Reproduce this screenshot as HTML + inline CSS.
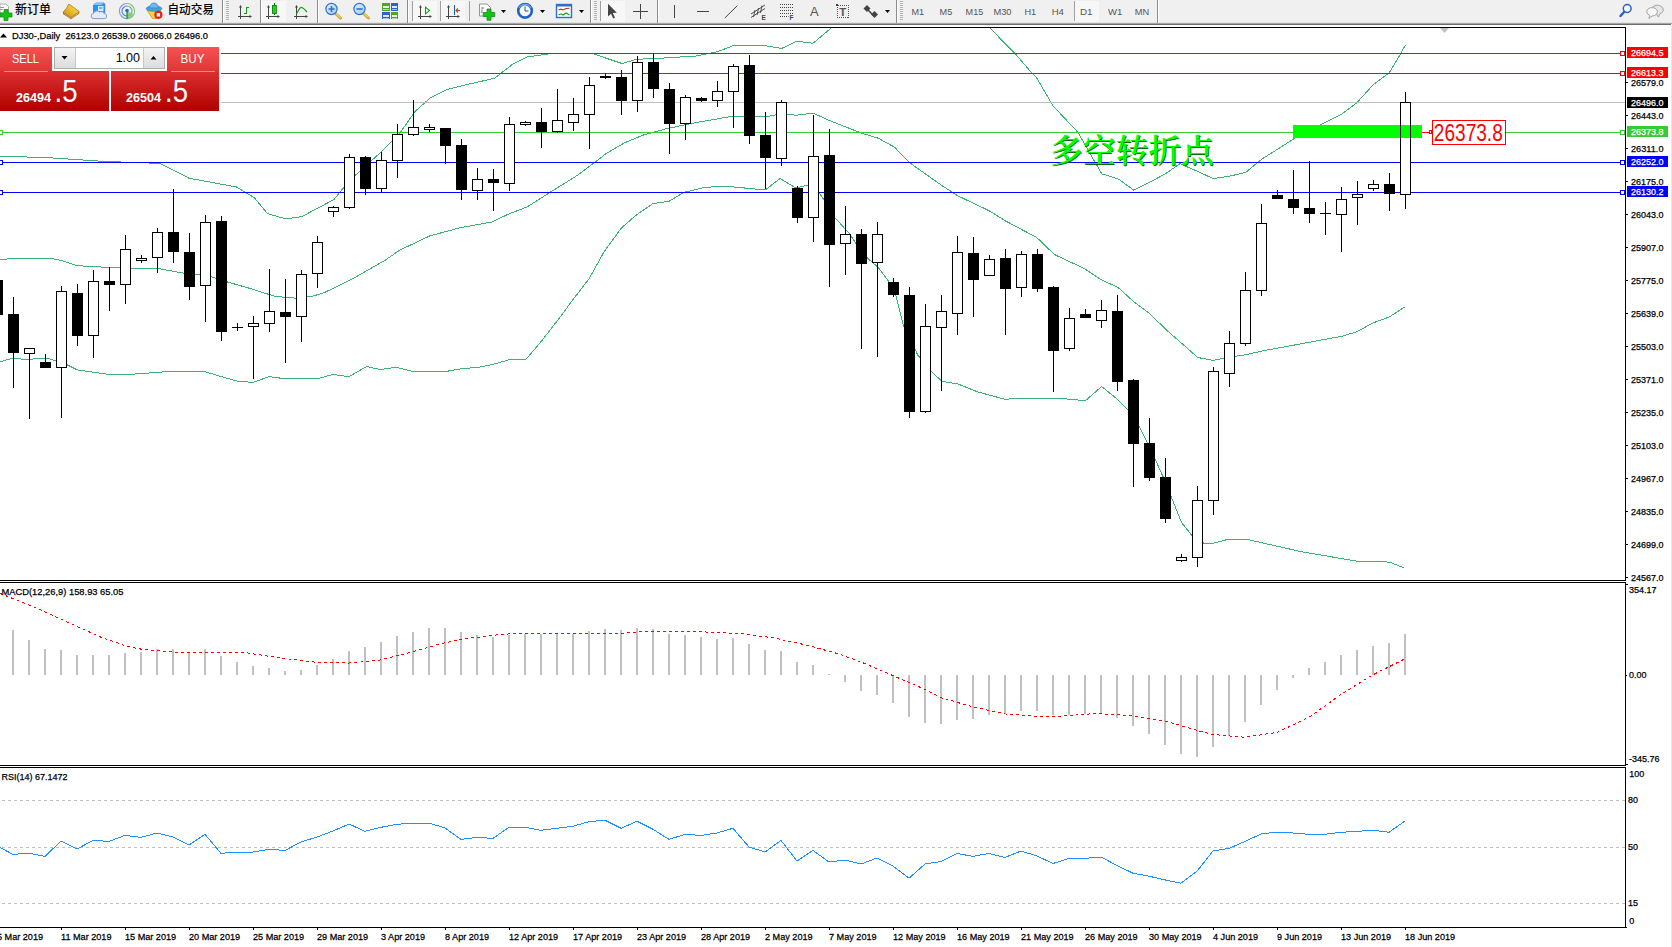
<!DOCTYPE html>
<html lang="zh"><head><meta charset="utf-8"><title>DJ30-,Daily</title>
<style>
html,body{margin:0;padding:0;background:#fff;overflow:hidden}
body{width:1672px;height:947px;position:relative;font-family:"Liberation Sans", "Noto Sans CJK SC", sans-serif}
svg{position:absolute;left:0;top:0;display:block}
text{font-family:"Liberation Sans", "Noto Sans CJK SC", sans-serif}
.t9{font-size:9.5px;fill:#000;stroke:#000;stroke-width:0.25px}
.cn{font-size:12px;fill:#000;font-weight:500}
.tf{font-size:9.5px;fill:#555}
.cr{shape-rendering:crispEdges}
text.ann{font-family:"Liberation Serif", "Noto Serif CJK SC", serif;font-weight:600;font-size:32px}
</style></head><body>
<svg width="1672" height="947" viewBox="0 0 1672 947">
<defs>
<clipPath id="cm"><rect x="0" y="28" width="1625" height="552"/></clipPath>
<clipPath id="cmacd"><rect x="0" y="583" width="1625" height="182"/></clipPath>
<clipPath id="crsi"><rect x="0" y="768" width="1625" height="159"/></clipPath>
<linearGradient id="gs1" x1="0" y1="0" x2="0" y2="1"><stop offset="0" stop-color="#f85252"/><stop offset="1" stop-color="#de3434"/></linearGradient>
<linearGradient id="gs2" x1="0" y1="0" x2="0" y2="1"><stop offset="0" stop-color="#dc3030"/><stop offset="1" stop-color="#b00000"/></linearGradient>
<linearGradient id="gbtn" x1="0" y1="0" x2="0" y2="1"><stop offset="0" stop-color="#f4f4f4"/><stop offset="1" stop-color="#dcdcdc"/></linearGradient>
<linearGradient id="glens" x1="0" y1="0" x2="1" y2="1"><stop offset="0" stop-color="#e8f3ff"/><stop offset="1" stop-color="#9cc4ee"/></linearGradient>
<linearGradient id="gbook" x1="1" y1="0" x2="0" y2="1"><stop offset="0" stop-color="#fbe36e"/><stop offset="0.55" stop-color="#e8b828"/><stop offset="1" stop-color="#c08a14"/></linearGradient>
</defs>
<rect x="0" y="0" width="1672" height="947" fill="#fff"/>
<g id="toolbar">
<rect x="0" y="0" width="1672" height="23" fill="#f0f0f0" class="cr"/>
<rect x="0" y="22" width="1672" height="1" fill="#e2e2e2" class="cr"/>
<rect x="0" y="23" width="1672" height="1" fill="#a6a6a6" class="cr"/>
<rect x="0" y="24" width="1672" height="1" fill="#6c6c6c" class="cr"/>
<rect x="1671" y="24" width="1" height="923" fill="#e8e8e8" class="cr"/>
<path d="M0,4 H6 L8.5,6.5 V13 H0 Z" fill="#fff" stroke="#9a9a9a" stroke-width="0.8"/>
<rect x="0" y="7" width="4" height="1" fill="#9a9a9a"/><rect x="0" y="9" width="3" height="1" fill="#9a9a9a"/>
<path d="M4,9.5 H8 V13 H12 V17 H8 V20.5 H4 V17 H0 V13 H4 Z" fill="#17c217" stroke="#0a8a0a" stroke-width="0.7"/>
<text class="cn" x="15" y="14.2" textLength="36" lengthAdjust="spacingAndGlyphs">新订单</text>
<polygon points="63,12.2 71,17.4 79.3,11.6 79.3,13.4 71,19.2 63,13.9" fill="#9a6a14"/>
<polygon points="64,13.2 71,17.9 78.6,12.6 78.6,13.3 71,18.5 64,13.8" fill="#f3e6b8"/>
<path d="M68.8,4 L79.3,11.6 L71,17.4 L63,12.2 Q66.5,9.5 68.8,4 Z" fill="url(#gbook)" stroke="#b07a12" stroke-width="0.8"/>
<path d="M93.5,5 L96,3 H104 L104.8,4.5 V12.5 H93.5 Z" fill="#2196f0" stroke="#1a78d0" stroke-width="0.7"/>
<path d="M93.5,5 L96,3 H104 L101.5,5 Z" fill="#7cc6ff"/>
<rect x="98" y="6" width="5.5" height="5" fill="#cfe9ff"/>
<rect x="99" y="7.5" width="3.5" height="1" fill="#2d7fd0"/>
<path d="M94,18.6 a2.6,2.6 0 0 1 -0.4,-5.2 a3.3,3.3 0 0 1 5.8,-1.3 a2.9,2.9 0 0 1 4.6,1.5 a2.5,2.5 0 0 1 0.3,5 Z" fill="#e6ecf7" stroke="#7a94c8" stroke-width="0.9"/>
<g fill="none" stroke-width="1.2">
<path d="M127,3.5 a7.6,7.6 0 0 0 0,15.2" stroke="#7da0e0"/>
<path d="M127,6 a5,5 0 0 0 0,10" stroke="#5b86d6"/>
<path d="M127,3.5 a7.6,7.6 0 0 1 0,15.2" stroke="#86c28a"/>
<path d="M127,6 a5,5 0 0 1 0,10" stroke="#6db672"/>
</g>
<path d="M127,11 L133.5,14 a7.2,7.2 0 0 1 -6.5,4.5 Z" fill="#7cc47f" opacity="0.8"/>
<rect x="126.4" y="11" width="1.4" height="8" fill="#1fa51f"/>
<circle cx="127" cy="10.6" r="1.8" fill="#2d62d6"/>
<path d="M147,10 L160.5,10 L156.5,18.5 H152.5 Z" fill="#f6d247" stroke="#c99712" stroke-width="0.8"/>
<ellipse cx="154" cy="8.6" rx="7.8" ry="2.7" fill="#4aa3dd" stroke="#2a7fc0" stroke-width="0.7"/>
<path d="M149.5,8 a4.5,5 0 0 1 9,0 Z" fill="#6fbbe8" stroke="#2a7fc0" stroke-width="0.7"/>
<circle cx="158.4" cy="14.8" r="4.1" fill="#e02210"/>
<rect x="156.7" y="13.1" width="3.4" height="3.4" fill="#fff"/>
<text class="cn" x="167.5" y="14.2" textLength="46.5" lengthAdjust="spacingAndGlyphs">自动交易</text>
<rect x="222" y="0" width="1" height="23" fill="#8c8c8c" class="cr"/>
<rect x="223" y="0" width="1" height="23" fill="#ffffff" class="cr"/>
<rect x="226" y="1" width="3" height="1" fill="#b4b4b4" class="cr"/>
<rect x="226" y="3" width="3" height="1" fill="#b4b4b4" class="cr"/>
<rect x="226" y="5" width="3" height="1" fill="#b4b4b4" class="cr"/>
<rect x="226" y="7" width="3" height="1" fill="#b4b4b4" class="cr"/>
<rect x="226" y="9" width="3" height="1" fill="#b4b4b4" class="cr"/>
<rect x="226" y="11" width="3" height="1" fill="#b4b4b4" class="cr"/>
<rect x="226" y="13" width="3" height="1" fill="#b4b4b4" class="cr"/>
<rect x="226" y="15" width="3" height="1" fill="#b4b4b4" class="cr"/>
<rect x="226" y="17" width="3" height="1" fill="#b4b4b4" class="cr"/>
<rect x="226" y="19" width="3" height="1" fill="#b4b4b4" class="cr"/>
<g stroke="#444" stroke-width="1" fill="none" class="cr">
<line x1="240.5" y1="6" x2="240.5" y2="19"/>
<line x1="238" y1="16.5" x2="251" y2="16.5"/>
</g>
<polygon points="239,7.5 240.5,5 242,7.5" fill="#444"/>
<polygon points="249.5,15 252,16.5 249.5,18" fill="#444"/>
<path d="M246.5,7 V14 M246.5,7.5 H249 M244,13.5 H246.5" stroke="#12a012" stroke-width="1.3" fill="none" class="cr"/>
<rect x="260" y="0" width="1" height="23" fill="#8c8c8c" class="cr"/>
<rect x="261" y="0" width="1" height="23" fill="#ffffff" class="cr"/>
<rect x="262" y="1" width="24" height="21" fill="#f7f7f7" class="cr"/>
<g stroke="#444" stroke-width="1" fill="none" class="cr">
<line x1="268.5" y1="6" x2="268.5" y2="19"/>
<line x1="266" y1="16.5" x2="279" y2="16.5"/>
</g>
<polygon points="267,7.5 268.5,5 270,7.5" fill="#444"/>
<polygon points="277.5,15 280,16.5 277.5,18" fill="#444"/>
<rect x="273.5" y="3" width="1" height="12" fill="#0a7a0a" class="cr"/>
<rect x="272" y="5" width="4" height="8" fill="#22d022" stroke="#0a7a0a" stroke-width="0.8" class="cr"/>
<g stroke="#444" stroke-width="1" fill="none" class="cr">
<line x1="296.5" y1="6" x2="296.5" y2="19"/>
<line x1="294" y1="16.5" x2="307" y2="16.5"/>
</g>
<polygon points="295,7.5 296.5,5 298,7.5" fill="#444"/>
<polygon points="305.5,15 308,16.5 305.5,18" fill="#444"/>
<path d="M296.5,14 Q300,6.5 302,7.5 T307,12" stroke="#12a012" stroke-width="1.2" fill="none"/>
<rect x="317" y="0" width="1" height="23" fill="#8c8c8c" class="cr"/>
<rect x="318" y="0" width="1" height="23" fill="#ffffff" class="cr"/>
<line x1="335.5" y1="13.5" x2="340.5" y2="18" stroke="#c9a227" stroke-width="3" stroke-linecap="round"/>
<line x1="335.5" y1="13.2" x2="340.5" y2="17.6" stroke="#f1d86a" stroke-width="1.2" stroke-linecap="round"/>
<circle cx="331.5" cy="9" r="5.6" fill="url(#glens)" stroke="#2f74c8" stroke-width="1.2"/>
<rect x="328.5" y="8.2" width="6" height="1.6" fill="#2f74c8"/>
<rect x="330.7" y="6" width="1.6" height="6" fill="#2f74c8"/>
<line x1="363.5" y1="13.5" x2="368.5" y2="18" stroke="#c9a227" stroke-width="3" stroke-linecap="round"/>
<line x1="363.5" y1="13.2" x2="368.5" y2="17.6" stroke="#f1d86a" stroke-width="1.2" stroke-linecap="round"/>
<circle cx="359.5" cy="9" r="5.6" fill="url(#glens)" stroke="#2f74c8" stroke-width="1.2"/>
<rect x="356.5" y="8.2" width="6" height="1.6" fill="#2f74c8"/>
<rect x="382" y="3" width="7.8" height="7.8" fill="#4ea628" class="cr"/>
<rect x="383" y="6" width="5.8" height="2" fill="#fff" opacity="0.85" class="cr"/>
<rect x="383" y="9" width="5.8" height="1" fill="#fff" opacity="0.6" class="cr"/>
<rect x="390.5" y="3" width="7.8" height="7.8" fill="#2a64d4" class="cr"/>
<rect x="391.5" y="6" width="5.8" height="2" fill="#fff" opacity="0.85" class="cr"/>
<rect x="391.5" y="9" width="5.8" height="1" fill="#fff" opacity="0.6" class="cr"/>
<rect x="382" y="11.5" width="7.8" height="7.8" fill="#2a64d4" class="cr"/>
<rect x="383" y="14.5" width="5.8" height="2" fill="#fff" opacity="0.85" class="cr"/>
<rect x="383" y="17.5" width="5.8" height="1" fill="#fff" opacity="0.6" class="cr"/>
<rect x="390.5" y="11.5" width="7.8" height="7.8" fill="#4ea628" class="cr"/>
<rect x="391.5" y="14.5" width="5.8" height="2" fill="#fff" opacity="0.85" class="cr"/>
<rect x="391.5" y="17.5" width="5.8" height="1" fill="#fff" opacity="0.6" class="cr"/>
<rect x="407" y="0" width="1" height="23" fill="#8c8c8c" class="cr"/>
<rect x="408" y="0" width="1" height="23" fill="#ffffff" class="cr"/>
<rect x="412" y="1" width="1" height="20" fill="#a0a0a0" class="cr"/>
<rect x="413" y="1" width="24" height="21" fill="#f7f7f7" class="cr"/>
<g stroke="#444" stroke-width="1" fill="none" class="cr">
<line x1="420.5" y1="6" x2="420.5" y2="19"/>
<line x1="418" y1="16.5" x2="431" y2="16.5"/>
</g>
<polygon points="419,7.5 420.5,5 422,7.5" fill="#444"/>
<polygon points="429.5,15 432,16.5 429.5,18" fill="#444"/>
<polygon points="425.5,7.2 429.5,10.5 425.5,13.8" fill="#fff" stroke="#14a414" stroke-width="1.1"/>
<rect x="440" y="1" width="1" height="20" fill="#a0a0a0" class="cr"/>
<rect x="441" y="1" width="24" height="21" fill="#f7f7f7" class="cr"/>
<g stroke="#444" stroke-width="1" fill="none" class="cr">
<line x1="448.5" y1="6" x2="448.5" y2="19"/>
<line x1="446" y1="16.5" x2="459" y2="16.5"/>
</g>
<polygon points="447,7.5 448.5,5 450,7.5" fill="#444"/>
<polygon points="457.5,15 460,16.5 457.5,18" fill="#444"/>
<rect x="454" y="5" width="1" height="10" fill="#1464a0" class="cr"/>
<path d="M460,10.5 H456 M458,8.5 L456,10.5 L458,12.5" stroke="#d04000" stroke-width="1.1" fill="none"/>
<rect x="469" y="1" width="1" height="20" fill="#a0a0a0" class="cr"/>
<path d="M479.5,4 H487 L490.5,7.5 V16 H479.5 Z" fill="#fafafa" stroke="#8a8a8a" stroke-width="0.9"/>
<path d="M482,7 V13 M482,8 H484 M482,12 H480.8" stroke="#777" stroke-width="0.8" fill="none"/>
<path d="M487,9 H491 V12.5 H494.8 V16.5 H491 V20.3 H487 V16.5 H483.2 V12.5 H487 Z" fill="#17c217" stroke="#0a8a0a" stroke-width="0.7"/>
<polygon points="501,10 506,10 503.5,13" fill="#000"/>
<circle cx="525" cy="10.8" r="6.8" fill="#f4f8ff" stroke="#1f5fc6" stroke-width="2.6"/>
<path d="M519,8 a6.8,6.8 0 0 1 12,0" fill="none" stroke="#6fa4ee" stroke-width="1.2"/>
<path d="M525,6.5 V11 H528.5" stroke="#555" stroke-width="1" fill="none"/>
<polygon points="540,10 545,10 542.5,13" fill="#000"/>
<rect x="556.5" y="4.5" width="15" height="13" fill="#fff" stroke="#2d6fd0" stroke-width="1.4"/>
<rect x="556" y="4" width="16" height="2.5" fill="#2d6fd0"/>
<path d="M558.5,10 L561,9.2 L563,10 L566,8.5 L569.5,8.2" stroke="#c03010" stroke-width="1.1" fill="none"/>
<path d="M558.5,15 L561,13.8 L563,15 L566,13 L569.5,15" stroke="#12a012" stroke-width="1.1" fill="none"/>
<polygon points="579,10 584,10 581.5,13" fill="#000"/>
<rect x="590" y="0" width="1" height="23" fill="#8c8c8c" class="cr"/>
<rect x="591" y="0" width="1" height="23" fill="#ffffff" class="cr"/>
<rect x="594" y="1" width="3" height="1" fill="#b4b4b4" class="cr"/>
<rect x="594" y="3" width="3" height="1" fill="#b4b4b4" class="cr"/>
<rect x="594" y="5" width="3" height="1" fill="#b4b4b4" class="cr"/>
<rect x="594" y="7" width="3" height="1" fill="#b4b4b4" class="cr"/>
<rect x="594" y="9" width="3" height="1" fill="#b4b4b4" class="cr"/>
<rect x="594" y="11" width="3" height="1" fill="#b4b4b4" class="cr"/>
<rect x="594" y="13" width="3" height="1" fill="#b4b4b4" class="cr"/>
<rect x="594" y="15" width="3" height="1" fill="#b4b4b4" class="cr"/>
<rect x="594" y="17" width="3" height="1" fill="#b4b4b4" class="cr"/>
<rect x="594" y="19" width="3" height="1" fill="#b4b4b4" class="cr"/>
<rect x="600" y="1" width="1" height="20" fill="#a0a0a0" class="cr"/>
<rect x="601" y="1" width="24" height="21" fill="#f7f7f7" class="cr"/>
<path d="M608,3.8 V16.5 L611,13.8 L613.2,18.6 L615,17.8 L612.8,13 L616.8,12.8 Z" fill="#444"/>
<path d="M640.5,4 V18.5 M633,11.5 H648" stroke="#444" stroke-width="1" fill="none" class="cr"/>
<rect x="657" y="0" width="1" height="23" fill="#8c8c8c" class="cr"/>
<rect x="658" y="0" width="1" height="23" fill="#ffffff" class="cr"/>
<rect x="674" y="5" width="1" height="13" fill="#444" class="cr"/>
<rect x="697" y="11" width="12" height="1" fill="#444" class="cr"/>
<line x1="724.8" y1="18" x2="737.4" y2="5.6" stroke="#444" stroke-width="1"/>
<g stroke="#444" stroke-width="0.9" fill="none">
<line x1="751" y1="14" x2="765" y2="5"/><line x1="751" y1="17.5" x2="765" y2="8.5"/>
<line x1="755" y1="10" x2="753.5" y2="17"/><line x1="758.5" y1="8" x2="757" y2="15"/><line x1="762" y1="5.5" x2="760.5" y2="13"/>
</g>
<text x="761.5" y="19.5" font-size="6.5" font-weight="bold" fill="#444">E</text>
<line x1="780" y1="4.5" x2="794" y2="4.5" stroke="#444" stroke-width="1" stroke-dasharray="1,1" class="cr"/>
<line x1="780" y1="7.5" x2="794" y2="7.5" stroke="#444" stroke-width="1" stroke-dasharray="1,1" class="cr"/>
<line x1="780" y1="10.5" x2="794" y2="10.5" stroke="#444" stroke-width="1" stroke-dasharray="1,1" class="cr"/>
<line x1="780" y1="13.5" x2="794" y2="13.5" stroke="#444" stroke-width="1" stroke-dasharray="1,1" class="cr"/>
<line x1="780" y1="16.5" x2="794" y2="16.5" stroke="#444" stroke-width="1" stroke-dasharray="1,1" class="cr"/>
<rect x="788.5" y="14.5" width="6" height="6" fill="#f0f0f0"/>
<text x="789.5" y="19.8" font-size="6.5" font-weight="bold" fill="#444">F</text>
<text x="810" y="16.2" font-size="13" fill="#555">A</text>
<rect x="837.5" y="5.5" width="11" height="12" fill="none" stroke="#555" stroke-width="1" stroke-dasharray="1,1" class="cr"/>
<rect x="836" y="4" width="2" height="2" fill="#444" class="cr"/>
<text x="839.2" y="16" font-size="11.5" font-weight="bold" fill="#555">T</text>
<polygon points="867,5 870.5,8.5 867,12 863.5,8.5" fill="#444"/>
<polygon points="874.5,11 878,14.5 874.5,18 871,14.5" fill="#444"/>
<path d="M868,10 L873.5,15.5" stroke="#444" stroke-width="1.6"/>
<polygon points="885,10 890,10 887.5,13" fill="#000"/>
<rect x="896" y="0" width="1" height="23" fill="#8c8c8c" class="cr"/>
<rect x="897" y="0" width="1" height="23" fill="#ffffff" class="cr"/>
<rect x="900" y="1" width="3" height="1" fill="#b4b4b4" class="cr"/>
<rect x="900" y="3" width="3" height="1" fill="#b4b4b4" class="cr"/>
<rect x="900" y="5" width="3" height="1" fill="#b4b4b4" class="cr"/>
<rect x="900" y="7" width="3" height="1" fill="#b4b4b4" class="cr"/>
<rect x="900" y="9" width="3" height="1" fill="#b4b4b4" class="cr"/>
<rect x="900" y="11" width="3" height="1" fill="#b4b4b4" class="cr"/>
<rect x="900" y="13" width="3" height="1" fill="#b4b4b4" class="cr"/>
<rect x="900" y="15" width="3" height="1" fill="#b4b4b4" class="cr"/>
<rect x="900" y="17" width="3" height="1" fill="#b4b4b4" class="cr"/>
<rect x="900" y="19" width="3" height="1" fill="#b4b4b4" class="cr"/>
<rect x="1074" y="1" width="1" height="20" fill="#a0a0a0" class="cr"/>
<rect x="1075" y="1" width="24" height="21" fill="#f7f7f7" class="cr"/>
<text class="tf" x="911.4" y="15" textLength="12.6" lengthAdjust="spacingAndGlyphs">M1</text>
<text class="tf" x="939.6" y="15" textLength="12.6" lengthAdjust="spacingAndGlyphs">M5</text>
<text class="tf" x="965.6" y="15" textLength="17.6" lengthAdjust="spacingAndGlyphs">M15</text>
<text class="tf" x="993.4" y="15" textLength="18.1" lengthAdjust="spacingAndGlyphs">M30</text>
<text class="tf" x="1024.4" y="15" textLength="11.7" lengthAdjust="spacingAndGlyphs">H1</text>
<text class="tf" x="1051.7" y="15" textLength="12.2" lengthAdjust="spacingAndGlyphs">H4</text>
<text class="tf" x="1080" y="15" textLength="12.6" lengthAdjust="spacingAndGlyphs">D1</text>
<text class="tf" x="1107.9" y="15" textLength="14.3" lengthAdjust="spacingAndGlyphs">W1</text>
<text class="tf" x="1134.8" y="15" textLength="14.4" lengthAdjust="spacingAndGlyphs">MN</text>
<rect x="1157" y="0" width="1" height="23" fill="#8c8c8c" class="cr"/>
<rect x="1158" y="0" width="1" height="23" fill="#ffffff" class="cr"/>
<line x1="1620.5" y1="16" x2="1624.5" y2="11.5" stroke="#2b5fc7" stroke-width="2.4" stroke-linecap="round"/>
<circle cx="1627.2" cy="8.5" r="3.9" fill="#f4f8ff" stroke="#2b5fc7" stroke-width="1.5"/>
<path d="M1655,5.5 a6,4.6 0 1 1 4.5,8.6 l-1,3 l-2.4,-3 a6,4.6 0 0 1 -1.1,-8.6 Z" fill="#e6e6e6" stroke="#9a9a9a" stroke-width="0.9"/>
<path d="M1648.5,8.6 a5.4,4.2 0 1 1 3.6,7.4 l-3.2,2.4 l0.8,-3 a5.4,4.2 0 0 1 -1.2,-6.8 Z" fill="#f6f6f6" stroke="#9a9a9a" stroke-width="0.9"/>
</g>
<g id="frames" class="cr" fill="#000">
<rect x="0" y="27" width="1626" height="1"/>
<rect x="1625" y="27" width="1" height="554"/>
<rect x="0" y="580" width="1626" height="1"/>
<rect x="0" y="582" width="1626" height="1"/>
<rect x="1625" y="582" width="1" height="184"/>
<rect x="0" y="765" width="1626" height="1"/>
<rect x="0" y="767" width="1626" height="1"/>
<rect x="1625" y="767" width="1" height="161"/>
<rect x="0" y="927" width="1627" height="1"/>
</g>
<g id="main" clip-path="url(#cm)">
<polyline points="-3,156 0,156 53,158 103.5,161.4 160,163.4 189,178.2 236.6,187 254,197.5 267.7,213.7 285.4,218.8 301.7,216.7 334,199.5 349,181 381.5,151.6 400,133 414.8,111.7 429.6,98.4 447,89.5 471,83.6 494.6,78.3 512.4,64.4 527,57 548,54 592,53.4 607,58.5 622,63.5 636.6,59.3 666,57.9 695.8,56 716.5,52 734,45.4 763.8,45.4 781.5,48.5 796.8,41.2 813,43.3 831.8,27.5 845,17 975,14 989.3,27.5 1014.8,53.2 1031.8,73 1036.6,77.7 1053,105.8 1078,132.4 1101.7,173.8 1118,178.8 1133.6,190 1149,182.7 1165.3,173.8 1180,163.7 1196.3,170.8 1213,178.5 1229.6,176.2 1245.8,172.3 1262,159 1278.4,148.7 1294.6,138.3 1319.8,125 1342,114 1356.8,102.8 1373,85 1389.3,72.6 1399.6,55.5 1405.3,45.1" fill="none" stroke="#3cb371" stroke-width="1" class="cr"/>
<polyline points="-3,259.8 0,259.6 20,258 50,258 61,260.5 76,265.2 87,266.5 118,267.6 160,268.9 183,273 207,275.4 225,281.3 251,288.7 275,296.4 296,298.2 313.5,296 325,292.3 355,277.5 384.5,260.6 400,250 429.6,236 459,228 491.7,222 509.4,213.7 527,207 553.8,190 577.5,175.3 607,153 624.8,142.7 642.5,135.3 666,128.8 695.8,122.6 734,116 749,117 766.8,116.7 781.5,113.8 796,115.2 813.3,113.2 829.6,120.6 862,133.3 878.4,138.3 894.6,147.2 909.4,162.6 942,185.6 958.2,196 989.3,210.8 1005.6,221 1036.6,237.4 1054.4,254.5 1084,268.4 1101.7,280 1118,287.4 1134,302 1149,313 1166.8,330.3 1197.8,357.5 1213.3,360.4 1229.6,357 1245.8,354.8 1262,351 1294.6,345 1342,336.2 1356.8,331.8 1373,322.9 1389.3,317 1405.3,306.6" fill="none" stroke="#3cb371" stroke-width="1" class="cr"/>
<polyline points="-3,362 0,361.8 13,358.1 24,359.4 35,358.9 48,358.5 55.5,360.7 67.5,365 77.6,370 96,372.6 107,374.2 133,374.2 168.6,371.5 204,371.5 236.6,381 253,382.5 269,376.6 284,378.6 318,378.6 332.7,374.5 349,376.6 366.7,366.5 380,369.5 396,367.4 413.3,371.5 445.8,371.5 462,368.6 478.4,367.4 493,364.4 509.4,359.7 525.7,359.7 542,340.5 558,319.8 574.5,297.6 589.3,278.4 604,251.8 621.8,227.5 636.6,214.8 653,203.5 669,201.3 684,192.4 701.7,188 718,186.2 734,187 765.3,190 780,178.5 795.8,188 807.7,185 819.6,193.5 824.4,200.7 834.6,217.3 849.7,234 856,243.4 867,257.7 878,267.2 889.3,282.3 896,296 903.5,325.8 918,355.4 931.6,371.7 942,381.4 958,384 977.5,391.8 1005.6,399.5 1014.4,398.3 1060,398.3 1085.4,400.7 1101.7,386.5 1118,399.8 1128,410 1140,428 1149,445.6 1165,481 1181.5,522.5 1193.4,537.3 1203.5,543 1213.9,543 1228.7,539.2 1246.4,539.2 1265.6,543.6 1301,551.6 1355.8,561 1381,561 1391.3,562.8 1404.6,568.1" fill="none" stroke="#3cb371" stroke-width="1" class="cr"/>
<g class="cr">
<rect x="0" y="53" width="1625" height="1" fill="#ff0000"/>
<rect x="0" y="73" width="1625" height="1" fill="#ff0000"/>
<rect x="0" y="102" width="1625" height="1" fill="#c0c0c0"/>
<rect x="0" y="132" width="1625" height="1" fill="#32cd32"/>
<rect x="0" y="162" width="1625" height="1" fill="#0000ff"/>
<rect x="0" y="192" width="1625" height="1" fill="#0000ff"/>
</g>
<g class="cr">
<rect x="-3" y="270" width="1" height="60" fill="#000"/>
<rect x="-8" y="280" width="11" height="35" fill="#000"/>
<rect x="13" y="297" width="1" height="91" fill="#000"/>
<rect x="8" y="314" width="11" height="39" fill="#000"/>
<rect x="29" y="349" width="1" height="70" fill="#000"/>
<rect x="24" y="348" width="11" height="6" fill="#000"/>
<rect x="25" y="349" width="9" height="4" fill="#fff"/>
<rect x="45" y="354" width="1" height="14" fill="#000"/>
<rect x="40" y="362" width="11" height="6" fill="#000"/>
<rect x="61" y="286" width="1" height="132" fill="#000"/>
<rect x="56" y="291" width="11" height="77" fill="#000"/>
<rect x="57" y="292" width="9" height="75" fill="#fff"/>
<rect x="77" y="284" width="1" height="62" fill="#000"/>
<rect x="72" y="293" width="11" height="43" fill="#000"/>
<rect x="93" y="270" width="1" height="88" fill="#000"/>
<rect x="88" y="281" width="11" height="55" fill="#000"/>
<rect x="89" y="282" width="9" height="53" fill="#fff"/>
<rect x="109" y="267" width="1" height="44" fill="#000"/>
<rect x="104" y="281" width="11" height="4" fill="#000"/>
<rect x="125" y="235" width="1" height="69" fill="#000"/>
<rect x="120" y="249" width="11" height="36" fill="#000"/>
<rect x="121" y="250" width="9" height="34" fill="#fff"/>
<rect x="141" y="255" width="1" height="8" fill="#000"/>
<rect x="136" y="258" width="11" height="3" fill="#000"/>
<rect x="137" y="259" width="9" height="1" fill="#fff"/>
<rect x="157" y="228" width="1" height="45" fill="#000"/>
<rect x="152" y="232" width="11" height="26" fill="#000"/>
<rect x="153" y="233" width="9" height="24" fill="#fff"/>
<rect x="173" y="189" width="1" height="74" fill="#000"/>
<rect x="168" y="232" width="11" height="20" fill="#000"/>
<rect x="189" y="233" width="1" height="67" fill="#000"/>
<rect x="184" y="252" width="11" height="35" fill="#000"/>
<rect x="205" y="215" width="1" height="107" fill="#000"/>
<rect x="200" y="222" width="11" height="64" fill="#000"/>
<rect x="201" y="223" width="9" height="62" fill="#fff"/>
<rect x="221" y="216" width="1" height="125" fill="#000"/>
<rect x="216" y="221" width="11" height="111" fill="#000"/>
<rect x="237" y="323" width="1" height="8" fill="#000"/>
<rect x="232" y="327" width="11" height="1" fill="#000"/>
<rect x="253" y="316" width="1" height="63" fill="#000"/>
<rect x="248" y="323" width="11" height="4" fill="#000"/>
<rect x="249" y="324" width="9" height="2" fill="#fff"/>
<rect x="269" y="269" width="1" height="63" fill="#000"/>
<rect x="264" y="311" width="11" height="13" fill="#000"/>
<rect x="265" y="312" width="9" height="11" fill="#fff"/>
<rect x="285" y="279" width="1" height="84" fill="#000"/>
<rect x="280" y="312" width="11" height="5" fill="#000"/>
<rect x="301" y="270" width="1" height="72" fill="#000"/>
<rect x="296" y="274" width="11" height="43" fill="#000"/>
<rect x="297" y="275" width="9" height="41" fill="#fff"/>
<rect x="317" y="236" width="1" height="52" fill="#000"/>
<rect x="312" y="242" width="11" height="32" fill="#000"/>
<rect x="313" y="243" width="9" height="30" fill="#fff"/>
<rect x="333" y="206" width="1" height="11" fill="#000"/>
<rect x="328" y="207" width="11" height="5" fill="#000"/>
<rect x="329" y="208" width="9" height="3" fill="#fff"/>
<rect x="349" y="154" width="1" height="55" fill="#000"/>
<rect x="344" y="157" width="11" height="51" fill="#000"/>
<rect x="345" y="158" width="9" height="49" fill="#fff"/>
<rect x="365" y="156" width="1" height="39" fill="#000"/>
<rect x="360" y="157" width="11" height="32" fill="#000"/>
<rect x="381" y="152" width="1" height="40" fill="#000"/>
<rect x="376" y="160" width="11" height="29" fill="#000"/>
<rect x="377" y="161" width="9" height="27" fill="#fff"/>
<rect x="397" y="124" width="1" height="54" fill="#000"/>
<rect x="392" y="134" width="11" height="27" fill="#000"/>
<rect x="393" y="135" width="9" height="25" fill="#fff"/>
<rect x="413" y="100" width="1" height="36" fill="#000"/>
<rect x="408" y="127" width="11" height="8" fill="#000"/>
<rect x="409" y="128" width="9" height="6" fill="#fff"/>
<rect x="429" y="124" width="1" height="8" fill="#000"/>
<rect x="424" y="127" width="11" height="3" fill="#000"/>
<rect x="425" y="128" width="9" height="1" fill="#fff"/>
<rect x="445" y="128" width="1" height="36" fill="#000"/>
<rect x="440" y="128" width="11" height="18" fill="#000"/>
<rect x="461" y="139" width="1" height="61" fill="#000"/>
<rect x="456" y="145" width="11" height="45" fill="#000"/>
<rect x="477" y="168" width="1" height="32" fill="#000"/>
<rect x="472" y="179" width="11" height="12" fill="#000"/>
<rect x="473" y="180" width="9" height="10" fill="#fff"/>
<rect x="493" y="169" width="1" height="42" fill="#000"/>
<rect x="488" y="179" width="11" height="4" fill="#000"/>
<rect x="509" y="117" width="1" height="74" fill="#000"/>
<rect x="504" y="124" width="11" height="60" fill="#000"/>
<rect x="505" y="125" width="9" height="58" fill="#fff"/>
<rect x="525" y="121" width="1" height="5" fill="#000"/>
<rect x="520" y="122" width="11" height="3" fill="#000"/>
<rect x="521" y="123" width="9" height="1" fill="#fff"/>
<rect x="541" y="108" width="1" height="40" fill="#000"/>
<rect x="536" y="122" width="11" height="10" fill="#000"/>
<rect x="557" y="89" width="1" height="44" fill="#000"/>
<rect x="552" y="120" width="11" height="12" fill="#000"/>
<rect x="553" y="121" width="9" height="10" fill="#fff"/>
<rect x="573" y="98" width="1" height="33" fill="#000"/>
<rect x="568" y="114" width="11" height="9" fill="#000"/>
<rect x="569" y="115" width="9" height="7" fill="#fff"/>
<rect x="589" y="77" width="1" height="72" fill="#000"/>
<rect x="584" y="85" width="11" height="30" fill="#000"/>
<rect x="585" y="86" width="9" height="28" fill="#fff"/>
<rect x="605" y="73" width="1" height="6" fill="#000"/>
<rect x="600" y="76" width="11" height="2" fill="#000"/>
<rect x="621" y="70" width="1" height="45" fill="#000"/>
<rect x="616" y="77" width="11" height="24" fill="#000"/>
<rect x="637" y="56" width="1" height="56" fill="#000"/>
<rect x="632" y="62" width="11" height="39" fill="#000"/>
<rect x="633" y="63" width="9" height="37" fill="#fff"/>
<rect x="653" y="53" width="1" height="45" fill="#000"/>
<rect x="648" y="62" width="11" height="27" fill="#000"/>
<rect x="669" y="83" width="1" height="71" fill="#000"/>
<rect x="664" y="89" width="11" height="35" fill="#000"/>
<rect x="685" y="95" width="1" height="45" fill="#000"/>
<rect x="680" y="97" width="11" height="27" fill="#000"/>
<rect x="681" y="98" width="9" height="25" fill="#fff"/>
<rect x="701" y="97" width="1" height="5" fill="#000"/>
<rect x="696" y="98" width="11" height="3" fill="#000"/>
<rect x="717" y="81" width="1" height="26" fill="#000"/>
<rect x="712" y="91" width="11" height="10" fill="#000"/>
<rect x="713" y="92" width="9" height="8" fill="#fff"/>
<rect x="733" y="64" width="1" height="64" fill="#000"/>
<rect x="728" y="66" width="11" height="26" fill="#000"/>
<rect x="729" y="67" width="9" height="24" fill="#fff"/>
<rect x="749" y="55" width="1" height="89" fill="#000"/>
<rect x="744" y="65" width="11" height="71" fill="#000"/>
<rect x="765" y="112" width="1" height="77" fill="#000"/>
<rect x="760" y="135" width="11" height="23" fill="#000"/>
<rect x="781" y="100" width="1" height="66" fill="#000"/>
<rect x="776" y="102" width="11" height="57" fill="#000"/>
<rect x="777" y="103" width="9" height="55" fill="#fff"/>
<rect x="797" y="186" width="1" height="37" fill="#000"/>
<rect x="792" y="188" width="11" height="30" fill="#000"/>
<rect x="813" y="115" width="1" height="127" fill="#000"/>
<rect x="808" y="156" width="11" height="62" fill="#000"/>
<rect x="809" y="157" width="9" height="60" fill="#fff"/>
<rect x="829" y="129" width="1" height="158" fill="#000"/>
<rect x="824" y="155" width="11" height="90" fill="#000"/>
<rect x="845" y="206" width="1" height="69" fill="#000"/>
<rect x="840" y="234" width="11" height="10" fill="#000"/>
<rect x="841" y="235" width="9" height="8" fill="#fff"/>
<rect x="861" y="229" width="1" height="120" fill="#000"/>
<rect x="856" y="234" width="11" height="30" fill="#000"/>
<rect x="877" y="222" width="1" height="135" fill="#000"/>
<rect x="872" y="234" width="11" height="29" fill="#000"/>
<rect x="873" y="235" width="9" height="27" fill="#fff"/>
<rect x="893" y="278" width="1" height="19" fill="#000"/>
<rect x="888" y="282" width="11" height="13" fill="#000"/>
<rect x="909" y="287" width="1" height="131" fill="#000"/>
<rect x="904" y="295" width="11" height="117" fill="#000"/>
<rect x="925" y="304" width="1" height="109" fill="#000"/>
<rect x="920" y="326" width="11" height="86" fill="#000"/>
<rect x="921" y="327" width="9" height="84" fill="#fff"/>
<rect x="941" y="295" width="1" height="96" fill="#000"/>
<rect x="936" y="311" width="11" height="17" fill="#000"/>
<rect x="937" y="312" width="9" height="15" fill="#fff"/>
<rect x="957" y="236" width="1" height="99" fill="#000"/>
<rect x="952" y="252" width="11" height="62" fill="#000"/>
<rect x="953" y="253" width="9" height="60" fill="#fff"/>
<rect x="973" y="237" width="1" height="80" fill="#000"/>
<rect x="968" y="253" width="11" height="27" fill="#000"/>
<rect x="989" y="255" width="1" height="21" fill="#000"/>
<rect x="984" y="259" width="11" height="17" fill="#000"/>
<rect x="985" y="260" width="9" height="15" fill="#fff"/>
<rect x="1005" y="249" width="1" height="86" fill="#000"/>
<rect x="1000" y="258" width="11" height="31" fill="#000"/>
<rect x="1021" y="251" width="1" height="46" fill="#000"/>
<rect x="1016" y="254" width="11" height="34" fill="#000"/>
<rect x="1017" y="255" width="9" height="32" fill="#fff"/>
<rect x="1037" y="249" width="1" height="43" fill="#000"/>
<rect x="1032" y="254" width="11" height="35" fill="#000"/>
<rect x="1053" y="286" width="1" height="106" fill="#000"/>
<rect x="1048" y="287" width="11" height="64" fill="#000"/>
<rect x="1069" y="308" width="1" height="43" fill="#000"/>
<rect x="1064" y="318" width="11" height="31" fill="#000"/>
<rect x="1065" y="319" width="9" height="29" fill="#fff"/>
<rect x="1085" y="309" width="1" height="9" fill="#000"/>
<rect x="1080" y="314" width="11" height="4" fill="#000"/>
<rect x="1101" y="300" width="1" height="28" fill="#000"/>
<rect x="1096" y="310" width="11" height="11" fill="#000"/>
<rect x="1097" y="311" width="9" height="9" fill="#fff"/>
<rect x="1117" y="295" width="1" height="96" fill="#000"/>
<rect x="1112" y="311" width="11" height="71" fill="#000"/>
<rect x="1133" y="379" width="1" height="108" fill="#000"/>
<rect x="1128" y="380" width="11" height="64" fill="#000"/>
<rect x="1149" y="418" width="1" height="63" fill="#000"/>
<rect x="1144" y="443" width="11" height="35" fill="#000"/>
<rect x="1165" y="458" width="1" height="65" fill="#000"/>
<rect x="1160" y="477" width="11" height="42" fill="#000"/>
<rect x="1181" y="554" width="1" height="8" fill="#000"/>
<rect x="1176" y="557" width="11" height="4" fill="#000"/>
<rect x="1177" y="558" width="9" height="2" fill="#fff"/>
<rect x="1197" y="486" width="1" height="81" fill="#000"/>
<rect x="1192" y="500" width="11" height="58" fill="#000"/>
<rect x="1193" y="501" width="9" height="56" fill="#fff"/>
<rect x="1213" y="367" width="1" height="148" fill="#000"/>
<rect x="1208" y="371" width="11" height="130" fill="#000"/>
<rect x="1209" y="372" width="9" height="128" fill="#fff"/>
<rect x="1229" y="331" width="1" height="56" fill="#000"/>
<rect x="1224" y="343" width="11" height="31" fill="#000"/>
<rect x="1225" y="344" width="9" height="29" fill="#fff"/>
<rect x="1245" y="272" width="1" height="74" fill="#000"/>
<rect x="1240" y="290" width="11" height="54" fill="#000"/>
<rect x="1241" y="291" width="9" height="52" fill="#fff"/>
<rect x="1261" y="204" width="1" height="92" fill="#000"/>
<rect x="1256" y="223" width="11" height="68" fill="#000"/>
<rect x="1257" y="224" width="9" height="66" fill="#fff"/>
<rect x="1277" y="190" width="1" height="9" fill="#000"/>
<rect x="1272" y="195" width="11" height="4" fill="#000"/>
<rect x="1293" y="170" width="1" height="44" fill="#000"/>
<rect x="1288" y="199" width="11" height="9" fill="#000"/>
<rect x="1309" y="161" width="1" height="62" fill="#000"/>
<rect x="1304" y="208" width="11" height="6" fill="#000"/>
<rect x="1325" y="202" width="1" height="33" fill="#000"/>
<rect x="1320" y="213" width="11" height="1" fill="#000"/>
<rect x="1341" y="187" width="1" height="65" fill="#000"/>
<rect x="1336" y="199" width="11" height="16" fill="#000"/>
<rect x="1337" y="200" width="9" height="14" fill="#fff"/>
<rect x="1357" y="181" width="1" height="44" fill="#000"/>
<rect x="1352" y="194" width="11" height="4" fill="#000"/>
<rect x="1353" y="195" width="9" height="2" fill="#fff"/>
<rect x="1373" y="180" width="1" height="11" fill="#000"/>
<rect x="1368" y="184" width="11" height="5" fill="#000"/>
<rect x="1369" y="185" width="9" height="3" fill="#fff"/>
<rect x="1389" y="173" width="1" height="38" fill="#000"/>
<rect x="1384" y="184" width="11" height="10" fill="#000"/>
<rect x="1405" y="92" width="1" height="117" fill="#000"/>
<rect x="1400" y="102" width="11" height="93" fill="#000"/>
<rect x="1401" y="103" width="9" height="91" fill="#fff"/>
</g>
<g class="cr" fill="#fff">
<rect x="1620.5" y="51.5" width="4" height="4" stroke="#ff0000" stroke-width="1"/>
<rect x="-1.5" y="51.5" width="4" height="4" stroke="#ff0000" stroke-width="1"/>
<rect x="1620.5" y="71.5" width="4" height="4" stroke="#ff0000" stroke-width="1"/>
<rect x="-1.5" y="71.5" width="4" height="4" stroke="#ff0000" stroke-width="1"/>
<rect x="1620.5" y="130.5" width="4" height="4" stroke="#32cd32" stroke-width="1"/>
<rect x="-1.5" y="130.5" width="4" height="4" stroke="#32cd32" stroke-width="1"/>
<rect x="1620.5" y="160.5" width="4" height="4" stroke="#0000ff" stroke-width="1"/>
<rect x="-1.5" y="160.5" width="4" height="4" stroke="#0000ff" stroke-width="1"/>
<rect x="1620.5" y="190.5" width="4" height="4" stroke="#0000ff" stroke-width="1"/>
<rect x="-1.5" y="190.5" width="4" height="4" stroke="#0000ff" stroke-width="1"/>
</g>
<rect x="1293" y="125" width="129" height="13" fill="#00ff00" class="cr"/>
<rect x="1400" y="125" width="1" height="13" fill="#000" class="cr"/><rect x="1410" y="125" width="1" height="13" fill="#000" class="cr"/>
<g class="cr"><rect x="1422" y="132" width="8" height="1" fill="#ff0000"/>
<rect x="1429.5" y="130.5" width="2" height="3" fill="#fff" stroke="#ff0000"/>
<rect x="1432.5" y="120.5" width="73" height="24" fill="#fff" stroke="#ff0000" stroke-width="1"/></g>
<text x="1433.8" y="140.8" font-size="23.2" fill="#ff0000" textLength="69" lengthAdjust="spacingAndGlyphs">26373.8</text>
<text class="ann" x="1050.8" y="162.5" fill="#0b6b0b" textLength="164" lengthAdjust="spacingAndGlyphs">多空转折点</text>
<text class="ann" x="1050.2" y="162" fill="#00ff00" textLength="164" lengthAdjust="spacingAndGlyphs">多空转折点</text>
</g>
<polygon points="1440,28 1449,28 1444.5,33" fill="#c0c0c0"/>
<polygon points="0,37.4 7,37.4 3.5,33.6" fill="#000"/>
<text class="t9" x="12" y="38.6" textLength="196" lengthAdjust="spacingAndGlyphs">DJ30-,Daily&#160;&#160;26123.0 26539.0 26066.0 26496.0</text>
<g id="oneclick">
<rect x="0" y="46" width="221" height="66" fill="#fff" class="cr"/>
<rect x="0" y="47" width="52" height="25" fill="url(#gs1)" class="cr"/>
<rect x="167" y="47" width="52" height="25" fill="url(#gs1)" class="cr"/>
<rect x="0" y="71" width="109" height="40" fill="url(#gs2)" class="cr"/>
<rect x="111" y="71" width="108" height="40" fill="url(#gs2)" class="cr"/>
<rect x="4" y="71" width="44" height="1" fill="#f08a8a" class="cr"/>
<rect x="171" y="71" width="44" height="1" fill="#f08a8a" class="cr"/>
<rect x="54.5" y="47.5" width="110" height="21" fill="#fff" stroke="#adadad" class="cr"/>
<rect x="55" y="48" width="20" height="20" fill="url(#gbtn)" class="cr"/>
<rect x="144" y="48" width="20" height="20" fill="url(#gbtn)" class="cr"/>
<rect x="75" y="48" width="1" height="20" fill="#c8c8c8" class="cr"/>
<rect x="143" y="48" width="1" height="20" fill="#c8c8c8" class="cr"/>
<polygon points="61.5,56 67.5,56 64.5,59.5" fill="#000"/>
<polygon points="150.5,59.5 156.5,59.5 153.5,56" fill="#000"/>
<text x="140" y="61.9" font-size="12.5" fill="#000" text-anchor="end">1.00</text>
<text x="25.5" y="63" font-size="12.5" fill="#fff" text-anchor="middle" textLength="27" lengthAdjust="spacingAndGlyphs">SELL</text>
<text x="192.5" y="63" font-size="12.5" fill="#fff" text-anchor="middle" textLength="24" lengthAdjust="spacingAndGlyphs">BUY</text>
<text x="16" y="101.5" font-size="12" font-weight="bold" fill="#fff" textLength="35" lengthAdjust="spacingAndGlyphs">26494</text>
<text x="54.5" y="101.5" font-size="31" fill="#fff" textLength="23" lengthAdjust="spacingAndGlyphs">.5</text>
<text x="126" y="101.5" font-size="12" font-weight="bold" fill="#fff" textLength="35" lengthAdjust="spacingAndGlyphs">26504</text>
<text x="165" y="101.5" font-size="31" fill="#fff" textLength="23" lengthAdjust="spacingAndGlyphs">.5</text>
</g>
<g id="axis">
<g class="cr" fill="#000">
<rect x="1626" y="82" width="2" height="1"/>
<rect x="1626" y="115" width="2" height="1"/>
<rect x="1626" y="148" width="2" height="1"/>
<rect x="1626" y="181" width="2" height="1"/>
<rect x="1626" y="214" width="2" height="1"/>
<rect x="1626" y="247" width="2" height="1"/>
<rect x="1626" y="280" width="2" height="1"/>
<rect x="1626" y="313" width="2" height="1"/>
<rect x="1626" y="346" width="2" height="1"/>
<rect x="1626" y="379" width="2" height="1"/>
<rect x="1626" y="412" width="2" height="1"/>
<rect x="1626" y="445" width="2" height="1"/>
<rect x="1626" y="478" width="2" height="1"/>
<rect x="1626" y="511" width="2" height="1"/>
<rect x="1626" y="544" width="2" height="1"/>
<rect x="1626" y="577" width="2" height="1"/>
</g>
<text class="t9" x="1631" y="86" textLength="32.5" lengthAdjust="spacingAndGlyphs">26579.0</text>
<text class="t9" x="1631" y="119" textLength="32.5" lengthAdjust="spacingAndGlyphs">26443.0</text>
<text class="t9" x="1631" y="152" textLength="32.5" lengthAdjust="spacingAndGlyphs">26311.0</text>
<text class="t9" x="1631" y="185" textLength="32.5" lengthAdjust="spacingAndGlyphs">26175.0</text>
<text class="t9" x="1631" y="218" textLength="32.5" lengthAdjust="spacingAndGlyphs">26043.0</text>
<text class="t9" x="1631" y="251" textLength="32.5" lengthAdjust="spacingAndGlyphs">25907.0</text>
<text class="t9" x="1631" y="284" textLength="32.5" lengthAdjust="spacingAndGlyphs">25775.0</text>
<text class="t9" x="1631" y="317" textLength="32.5" lengthAdjust="spacingAndGlyphs">25639.0</text>
<text class="t9" x="1631" y="350" textLength="32.5" lengthAdjust="spacingAndGlyphs">25503.0</text>
<text class="t9" x="1631" y="383" textLength="32.5" lengthAdjust="spacingAndGlyphs">25371.0</text>
<text class="t9" x="1631" y="416" textLength="32.5" lengthAdjust="spacingAndGlyphs">25235.0</text>
<text class="t9" x="1631" y="449" textLength="32.5" lengthAdjust="spacingAndGlyphs">25103.0</text>
<text class="t9" x="1631" y="482" textLength="32.5" lengthAdjust="spacingAndGlyphs">24967.0</text>
<text class="t9" x="1631" y="515" textLength="32.5" lengthAdjust="spacingAndGlyphs">24835.0</text>
<text class="t9" x="1631" y="548" textLength="32.5" lengthAdjust="spacingAndGlyphs">24699.0</text>
<text class="t9" x="1631" y="581" textLength="32.5" lengthAdjust="spacingAndGlyphs">24567.0</text>
<rect x="1627" y="47" width="41" height="11" fill="#ff0000" class="cr"/>
<text class="t9" x="1631" y="56" style="fill:#fff;stroke:#fff" textLength="32.5" lengthAdjust="spacingAndGlyphs">26694.5</text>
<rect x="1627" y="67" width="41" height="11" fill="#ff0000" class="cr"/>
<text class="t9" x="1631" y="76" style="fill:#fff;stroke:#fff" textLength="32.5" lengthAdjust="spacingAndGlyphs">26613.3</text>
<rect x="1627" y="97" width="41" height="11" fill="#000000" class="cr"/>
<text class="t9" x="1631" y="106" style="fill:#fff;stroke:#fff" textLength="32.5" lengthAdjust="spacingAndGlyphs">26496.0</text>
<rect x="1627" y="126" width="41" height="11" fill="#32cd32" class="cr"/>
<text class="t9" x="1631" y="135" style="fill:#fff;stroke:#fff" textLength="32.5" lengthAdjust="spacingAndGlyphs">26373.8</text>
<rect x="1627" y="156" width="41" height="11" fill="#0000ff" class="cr"/>
<text class="t9" x="1631" y="165" style="fill:#fff;stroke:#fff" textLength="32.5" lengthAdjust="spacingAndGlyphs">26252.0</text>
<rect x="1627" y="186" width="41" height="11" fill="#0000ff" class="cr"/>
<text class="t9" x="1631" y="195" style="fill:#fff;stroke:#fff" textLength="32.5" lengthAdjust="spacingAndGlyphs">26130.2</text>
</g>
<g id="macd" clip-path="url(#cmacd)">
<g class="cr" fill="#c0c0c0">
<rect x="12" y="630" width="2" height="45"/>
<rect x="28" y="640" width="2" height="35"/>
<rect x="44" y="649" width="2" height="26"/>
<rect x="60" y="650" width="2" height="25"/>
<rect x="76" y="655" width="2" height="20"/>
<rect x="92" y="655" width="2" height="20"/>
<rect x="108" y="655" width="2" height="20"/>
<rect x="124" y="653" width="2" height="22"/>
<rect x="140" y="652" width="2" height="23"/>
<rect x="156" y="649" width="2" height="26"/>
<rect x="172" y="649" width="2" height="26"/>
<rect x="188" y="652" width="2" height="23"/>
<rect x="204" y="649" width="2" height="26"/>
<rect x="220" y="656" width="2" height="19"/>
<rect x="236" y="662" width="2" height="13"/>
<rect x="252" y="666" width="2" height="9"/>
<rect x="268" y="668" width="2" height="7"/>
<rect x="284" y="671" width="2" height="4"/>
<rect x="300" y="670" width="2" height="5"/>
<rect x="316" y="665" width="2" height="10"/>
<rect x="332" y="659" width="2" height="16"/>
<rect x="348" y="651" width="2" height="24"/>
<rect x="364" y="647" width="2" height="28"/>
<rect x="380" y="642" width="2" height="33"/>
<rect x="396" y="636" width="2" height="39"/>
<rect x="412" y="632" width="2" height="43"/>
<rect x="428" y="628" width="2" height="47"/>
<rect x="444" y="628" width="2" height="47"/>
<rect x="460" y="632" width="2" height="43"/>
<rect x="476" y="635" width="2" height="40"/>
<rect x="492" y="637" width="2" height="38"/>
<rect x="508" y="635" width="2" height="40"/>
<rect x="524" y="634" width="2" height="41"/>
<rect x="540" y="634" width="2" height="41"/>
<rect x="556" y="634" width="2" height="41"/>
<rect x="572" y="634" width="2" height="41"/>
<rect x="588" y="631" width="2" height="44"/>
<rect x="604" y="629" width="2" height="46"/>
<rect x="620" y="630" width="2" height="45"/>
<rect x="636" y="628" width="2" height="47"/>
<rect x="652" y="629" width="2" height="46"/>
<rect x="668" y="634" width="2" height="41"/>
<rect x="684" y="635" width="2" height="40"/>
<rect x="700" y="637" width="2" height="38"/>
<rect x="716" y="639" width="2" height="36"/>
<rect x="732" y="638" width="2" height="37"/>
<rect x="748" y="644" width="2" height="31"/>
<rect x="764" y="650" width="2" height="25"/>
<rect x="780" y="651" width="2" height="24"/>
<rect x="796" y="662" width="2" height="13"/>
<rect x="812" y="665" width="2" height="10"/>
<rect x="828" y="674" width="2" height="1"/>
<rect x="844" y="675" width="2" height="7"/>
<rect x="860" y="675" width="2" height="16"/>
<rect x="876" y="675" width="2" height="20"/>
<rect x="892" y="675" width="2" height="28"/>
<rect x="908" y="675" width="2" height="42"/>
<rect x="924" y="675" width="2" height="48"/>
<rect x="940" y="675" width="2" height="49"/>
<rect x="956" y="675" width="2" height="45"/>
<rect x="972" y="675" width="2" height="44"/>
<rect x="988" y="675" width="2" height="40"/>
<rect x="1004" y="675" width="2" height="39"/>
<rect x="1020" y="675" width="2" height="36"/>
<rect x="1036" y="675" width="2" height="36"/>
<rect x="1052" y="675" width="2" height="40"/>
<rect x="1068" y="675" width="2" height="40"/>
<rect x="1084" y="675" width="2" height="39"/>
<rect x="1100" y="675" width="2" height="39"/>
<rect x="1116" y="675" width="2" height="43"/>
<rect x="1132" y="675" width="2" height="51"/>
<rect x="1148" y="675" width="2" height="59"/>
<rect x="1164" y="675" width="2" height="70"/>
<rect x="1180" y="675" width="2" height="79"/>
<rect x="1196" y="675" width="2" height="82"/>
<rect x="1212" y="675" width="2" height="72"/>
<rect x="1228" y="675" width="2" height="61"/>
<rect x="1244" y="675" width="2" height="47"/>
<rect x="1260" y="675" width="2" height="30"/>
<rect x="1276" y="675" width="2" height="15"/>
<rect x="1292" y="675" width="2" height="3"/>
<rect x="1308" y="668" width="2" height="7"/>
<rect x="1324" y="662" width="2" height="13"/>
<rect x="1340" y="655" width="2" height="20"/>
<rect x="1356" y="650" width="2" height="25"/>
<rect x="1372" y="646" width="2" height="29"/>
<rect x="1388" y="643" width="2" height="32"/>
<rect x="1404" y="634" width="2" height="41"/>
</g>
<polyline points="0,593.4 33.5,606.8 67,621.9 100.5,637 127.3,646.4 144,649.7 174,652 247.8,653 278,657.7 314.8,662.1 348.3,663.1 378.4,660.4 412,652 438.7,644.3 460.5,639.3 502.3,634.3 529,633 560,633.6 627,633 647,631.3 690.6,631.3 740.8,633.6 774.3,638 807.8,645.4 838,653.7 861.4,662.1 894.9,676.5 921.7,687.9 941.8,697.9 972,706.6 1005.4,714 1035.5,716.3 1059,716.3 1089,714 1100,713.7 1132.5,715.7 1165,721 1197.6,730.5 1212.4,734.4 1245,737.3 1277.5,732.3 1310,716.6 1341,694.4 1372,675.2 1388.4,667 1404.6,659" fill="none" stroke="#ff0000" stroke-width="1" stroke-dasharray="3,3" class="cr"/>
</g>
<text class="t9" x="1.5" y="594.5" textLength="122" lengthAdjust="spacingAndGlyphs">MACD(12,26,9) 158.93 65.05</text>
<g class="cr" fill="#000"><rect x="1626" y="584" width="2" height="1"/><rect x="1626" y="675" width="1" height="1"/><rect x="1626" y="764" width="2" height="1"/></g>
<text class="t9" x="1629" y="593" textLength="27.5" lengthAdjust="spacingAndGlyphs">354.17</text>
<text class="t9" x="1629" y="678.1" textLength="17.5" lengthAdjust="spacingAndGlyphs">0.00</text>
<text class="t9" x="1629" y="761.5" textLength="30.5" lengthAdjust="spacingAndGlyphs">-345.76</text>
<g id="rsi" clip-path="url(#crsi)">
<line x1="2" y1="800.5" x2="1625" y2="800.5" stroke="#c0c0c0" stroke-width="1" stroke-dasharray="3,3" class="cr"/>
<line x1="2" y1="847.5" x2="1625" y2="847.5" stroke="#c0c0c0" stroke-width="1" stroke-dasharray="3,3" class="cr"/>
<line x1="2" y1="903.5" x2="1625" y2="903.5" stroke="#c0c0c0" stroke-width="1" stroke-dasharray="3,3" class="cr"/>
<polyline points="-3,846 13,854.4 29,853.1 45,856.4 61,841 77,849 93,840.4 109,841.4 125,835.4 141,837.4 157,833 173,837 189,845 205,834.3 221,853.4 237,852 253,852 269,849.4 285,850.4 301,842 317,837 333,831 349,824 365,831.3 381,827.3 397,824.3 413,823 429,823 445,828 461,839.4 477,837.4 493,838.4 509,827.3 525,827.3 541,830.3 557,828.3 573,826.3 589,821.6 605,820.3 621,828.3 637,821.3 653,829.3 669,839.4 685,834.3 701,835.4 717,833 733,828.3 749,847 765,852 781,840.4 797,861 813,850.4 829,862 845,860 861,864 877,858 893,866 909,878.2 925,864 941,861.5 957,853.4 973,856.4 989,853.4 1005,857.4 1021,851 1037,856 1053,863.5 1069,858.4 1085,858.4 1101,857 1117,865.5 1133,873.2 1149,876.2 1165,879.9 1181,883.2 1197,871.2 1213,851 1229,848.4 1245,841.4 1261,834 1277,832 1293,833 1309,834.3 1325,834.3 1341,832.3 1357,831.3 1373,830.3 1389,832.3 1405,821" fill="none" stroke="#1e90ff" stroke-width="1" class="cr"/>
</g>
<text class="t9" x="1.5" y="779.5" textLength="66" lengthAdjust="spacingAndGlyphs">RSI(14) 67.1472</text>
<text class="t9" x="1629.3" y="777.3" textLength="15" lengthAdjust="spacingAndGlyphs">100</text>
<text class="t9" x="1628" y="803.3" textLength="10" lengthAdjust="spacingAndGlyphs">80</text>
<text class="t9" x="1628" y="850.3" textLength="10" lengthAdjust="spacingAndGlyphs">50</text>
<text class="t9" x="1628" y="906.3" textLength="10" lengthAdjust="spacingAndGlyphs">15</text>
<text class="t9" x="1629.3" y="924.1" textLength="5" lengthAdjust="spacingAndGlyphs">0</text>
<g id="dates">
<g class="cr" fill="#000">
<rect x="-3" y="927" width="1" height="3"/>
<rect x="61" y="927" width="1" height="3"/>
<rect x="125" y="927" width="1" height="3"/>
<rect x="189" y="927" width="1" height="3"/>
<rect x="253" y="927" width="1" height="3"/>
<rect x="317" y="927" width="1" height="3"/>
<rect x="381" y="927" width="1" height="3"/>
<rect x="445" y="927" width="1" height="3"/>
<rect x="509" y="927" width="1" height="3"/>
<rect x="573" y="927" width="1" height="3"/>
<rect x="637" y="927" width="1" height="3"/>
<rect x="701" y="927" width="1" height="3"/>
<rect x="765" y="927" width="1" height="3"/>
<rect x="829" y="927" width="1" height="3"/>
<rect x="893" y="927" width="1" height="3"/>
<rect x="957" y="927" width="1" height="3"/>
<rect x="1021" y="927" width="1" height="3"/>
<rect x="1085" y="927" width="1" height="3"/>
<rect x="1149" y="927" width="1" height="3"/>
<rect x="1213" y="927" width="1" height="3"/>
<rect x="1277" y="927" width="1" height="3"/>
<rect x="1341" y="927" width="1" height="3"/>
<rect x="1405" y="927" width="1" height="3"/>
</g>
<text class="t9" transform="translate(-3,939.8) scale(0.96,1)">5 Mar 2019</text>
<text class="t9" transform="translate(61,939.8) scale(0.96,1)">11 Mar 2019</text>
<text class="t9" transform="translate(125,939.8) scale(0.96,1)">15 Mar 2019</text>
<text class="t9" transform="translate(189,939.8) scale(0.96,1)">20 Mar 2019</text>
<text class="t9" transform="translate(253,939.8) scale(0.96,1)">25 Mar 2019</text>
<text class="t9" transform="translate(317,939.8) scale(0.96,1)">29 Mar 2019</text>
<text class="t9" transform="translate(381,939.8) scale(0.96,1)">3 Apr 2019</text>
<text class="t9" transform="translate(445,939.8) scale(0.96,1)">8 Apr 2019</text>
<text class="t9" transform="translate(509,939.8) scale(0.96,1)">12 Apr 2019</text>
<text class="t9" transform="translate(573,939.8) scale(0.96,1)">17 Apr 2019</text>
<text class="t9" transform="translate(637,939.8) scale(0.96,1)">23 Apr 2019</text>
<text class="t9" transform="translate(701,939.8) scale(0.96,1)">28 Apr 2019</text>
<text class="t9" transform="translate(765,939.8) scale(0.96,1)">2 May 2019</text>
<text class="t9" transform="translate(829,939.8) scale(0.96,1)">7 May 2019</text>
<text class="t9" transform="translate(893,939.8) scale(0.96,1)">12 May 2019</text>
<text class="t9" transform="translate(957,939.8) scale(0.96,1)">16 May 2019</text>
<text class="t9" transform="translate(1021,939.8) scale(0.96,1)">21 May 2019</text>
<text class="t9" transform="translate(1085,939.8) scale(0.96,1)">26 May 2019</text>
<text class="t9" transform="translate(1149,939.8) scale(0.96,1)">30 May 2019</text>
<text class="t9" transform="translate(1213,939.8) scale(0.96,1)">4 Jun 2019</text>
<text class="t9" transform="translate(1277,939.8) scale(0.96,1)">9 Jun 2019</text>
<text class="t9" transform="translate(1341,939.8) scale(0.96,1)">13 Jun 2019</text>
<text class="t9" transform="translate(1405,939.8) scale(0.96,1)">18 Jun 2019</text>
</g>
</svg>
</body></html>
